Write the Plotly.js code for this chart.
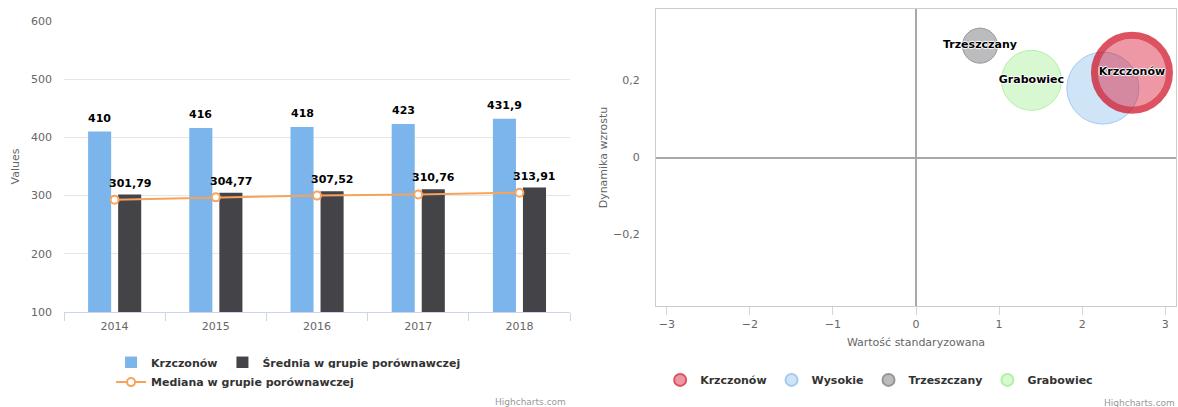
<!DOCTYPE html>
<html>
<head>
<meta charset="utf-8">
<script src="https://cdn.plot.ly/plotly-3.0.1.min.js"></script>
<style>
html, body { margin: 0; padding: 0; background: #ffffff; }
#wrap { display: flex; width: 1178px; height: 407px; overflow: hidden; }
#left { width: 590px; height: 407px; }
#right { width: 588px; height: 407px; }
</style>
</head>
<body>
<div id="wrap"><div id="left"></div><div id="right"></div></div>
<script>
// ---------- Data: left chart ----------
const years = ['2014', '2015', '2016', '2017', '2018'];
const krzczonowValues = [410, 416, 418, 423, 431.9];
const sredniaValues = [301.79, 304.77, 307.52, 310.76, 313.91];
const medianaValues = [293, 297, 300, 302, 305];
const leftSeriesNames = ['Krzczonów', 'Średnia w grupie porównawczej', 'Mediana w grupie porównawczej'];

// ---------- Data: right chart ----------
const bubbleNames = ['Krzczonów', 'Wysokie', 'Trzeszczany', 'Grabowiec'];
const bubbleX = [2.6, 2.25, 0.77, 1.39];
const bubbleY = [0.22, 0.18, 0.29, 0.20];
const bubbleZ = [75, 72, 35, 60];
const bubbleLabels = ['Krzczonów', '', 'Trzeszczany', 'Grabowiec'];

// ---------- Styles ----------
const FONT = 'DejaVu Sans, Verdana, sans-serif';
const barWidth = 0.228;
const blueOffset = -0.262;
const darkOffset = 0.035;
const fmt = v => String(v).replace('.', ',');
const labelFont = { family: FONT, size: 11, color: '#000000', weight: 'bold' };
const legendFont = { family: FONT, size: 11, color: '#333333', weight: 'bold' };

const leftTraces = [
  {
    type: 'bar', name: leftSeriesNames[0], x: years, y: krzczonowValues,
    width: barWidth, offset: blueOffset, legend: 'legend',
    marker: { color: '#7cb5ec', line: { width: 0 } }, hoverinfo: 'skip'
  },
  {
    type: 'bar', name: leftSeriesNames[1], x: years, y: sredniaValues,
    width: barWidth, offset: darkOffset, legend: 'legend',
    marker: { color: '#434348', line: { width: 0 } }, hoverinfo: 'skip'
  },
  {
    type: 'scatter', mode: 'lines+markers', name: leftSeriesNames[2], x: years, y: medianaValues,
    legend: 'legend2',
    line: { color: '#f7a35c', width: 2 },
    marker: { symbol: 'circle', size: 8, color: '#ffffff', line: { color: '#f7a35c', width: 2 } },
    hoverinfo: 'skip'
  }
];

const leftAnnotations = [];
years.forEach((yr, i) => {
  leftAnnotations.push({
    x: i + blueOffset + barWidth / 2, y: krzczonowValues[i], xref: 'x', yref: 'y',
    text: fmt(krzczonowValues[i]), showarrow: false, yanchor: 'bottom', yshift: 5, font: labelFont
  });
  leftAnnotations.push({
    x: i + darkOffset + barWidth / 2, y: sredniaValues[i], xref: 'x', yref: 'y',
    text: fmt(sredniaValues[i]), showarrow: false, yanchor: 'bottom', yshift: 3, font: labelFont
  });
});
leftAnnotations.push({
  x: 0.996, y: -0.308, xref: 'paper', yref: 'paper', xanchor: 'right', yanchor: 'middle',
  text: 'Highcharts.com', showarrow: false, font: { family: FONT, size: 9, color: '#999999' }
});

const leftLayout = {
  width: 590, height: 407,
  margin: { l: 64, r: 20, t: 21, b: 94, pad: 0 },
  paper_bgcolor: '#ffffff', plot_bgcolor: '#ffffff',
  font: { family: FONT, size: 11, color: '#666666' },
  separators: ', ',
  barmode: 'overlay',
  showlegend: true,
  legend: {
    orientation: 'h', x: 0.093, xanchor: 'left', y: -0.12, yanchor: 'top',
    font: legendFont, traceorder: 'normal'
  },
  legend2: {
    orientation: 'h', x: 0.093, xanchor: 'left', y: -0.187, yanchor: 'top',
    font: legendFont, traceorder: 'normal'
  },
  xaxis: {
    type: 'category', range: [-0.5, 4.5], tickson: 'boundaries',
    ticks: 'outside', ticklen: 8, tickcolor: '#ccd6eb', tickwidth: 1, ticklabelstandoff: 4,
    showline: true, linecolor: '#ccd6eb', linewidth: 1, showgrid: false, zeroline: false,
    tickfont: { family: FONT, size: 11, color: '#666666' }, fixedrange: true
  },
  yaxis: {
    range: [100, 600], tick0: 0, dtick: 100, showgrid: true, gridcolor: '#e6e6e6', gridwidth: 1,
    zeroline: false, showline: false, ticks: '', ticklabelstandoff: 11,
    tickfont: { family: FONT, size: 11, color: '#666666' },
    title: { text: 'Values', font: { family: FONT, size: 11, color: '#666666' }, standoff: 9 },
    automargin: true, fixedrange: true
  },
  annotations: leftAnnotations
};

// ---------- Right chart ----------
const fills = {
  'Krzczonów': 'rgba(220,20,50,0.62)',
  'Wysokie': 'rgba(124,181,236,0.5)',
  'Trzeszczany': 'rgba(67,67,72,0.5)',
  'Grabowiec': 'rgba(144,237,125,0.5)'
};
const lines = {
  'Krzczonów': '#cf0a1d',
  'Wysokie': '#7cb5ec',
  'Trzeszczany': '#6a6a6e',
  'Grabowiec': '#90ed7d'
};
const lineWidths = { 'Krzczonów': 7, 'Wysokie': 1, 'Trzeszczany': 1, 'Grabowiec': 1 };
const drawOrder = [1, 2, 3, 0];

const rightTraces = drawOrder.map(i => ({
  type: 'scatter', mode: 'markers', name: bubbleNames[i],
  x: [bubbleX[i]], y: [bubbleY[i]],
  marker: {
    size: [bubbleZ[i]], sizemode: 'diameter', color: fills[bubbleNames[i]],
    line: { color: lines[bubbleNames[i]], width: lineWidths[bubbleNames[i]] }
  },
  legendrank: i + 1, cliponaxis: false, hoverinfo: 'skip'
}));
rightTraces.push({
  type: 'scatter', mode: 'text', x: bubbleX, y: bubbleY, text: bubbleLabels,
  textposition: 'middle center', showlegend: false, cliponaxis: false, hoverinfo: 'skip',
  textfont: { family: FONT, size: 11, color: '#000000', weight: 'bold',
    shadow: '1px 0 1px #fff, -1px 0 1px #fff, 0 1px 1px #fff, 0 -1px 1px #fff' }
});

const rightLayout = {
  width: 588, height: 407,
  margin: { l: 66, r: 2, t: 9, b: 101, pad: 0 },
  paper_bgcolor: '#ffffff', plot_bgcolor: '#ffffff',
  font: { family: FONT, size: 11, color: '#666666' },
  separators: ', ',
  showlegend: true,
  legend: {
    orientation: 'h', x: 0.008, xanchor: 'left', y: -0.2, yanchor: 'top',
    font: legendFont, itemsizing: 'constant'
  },
  xaxis: {
    range: [-3.13, 3.13], tick0: 0, dtick: 1, showgrid: false,
    zeroline: true, zerolinecolor: '#a8a8a8', zerolinewidth: 2,
    showline: true, mirror: true, linecolor: '#cccccc', linewidth: 1,
    ticks: 'outside', ticklen: 8, tickcolor: '#ccd6eb',
    tickfont: { family: FONT, size: 11, color: '#666666' },
    title: { text: 'Wartość standaryzowana', font: { family: FONT, size: 11, color: '#666666' }, standoff: 8 },
    automargin: true, fixedrange: true
  },
  yaxis: {
    range: [-0.385, 0.385], tick0: 0, dtick: 0.2, showgrid: false,
    zeroline: true, zerolinecolor: '#a8a8a8', zerolinewidth: 2,
    showline: true, mirror: true, linecolor: '#cccccc', linewidth: 1,
    ticks: '', ticklabelstandoff: 13,
    tickfont: { family: FONT, size: 11, color: '#666666' },
    title: { text: 'Dynamika wzrostu', font: { family: FONT, size: 11, color: '#666666' }, standoff: 3 },
    automargin: true, fixedrange: true
  },
  annotations: [{
    x: 1.002, y: -0.327, xref: 'paper', yref: 'paper', xanchor: 'right', yanchor: 'middle',
    text: 'Highcharts.com', showarrow: false, font: { family: FONT, size: 9, color: '#999999' }
  }]
};

const config = { displayModeBar: false, staticPlot: true, responsive: false };
Plotly.newPlot('left', leftTraces, leftLayout, config);
Plotly.newPlot('right', rightTraces, rightLayout, config);
</script>
</body>
</html>
